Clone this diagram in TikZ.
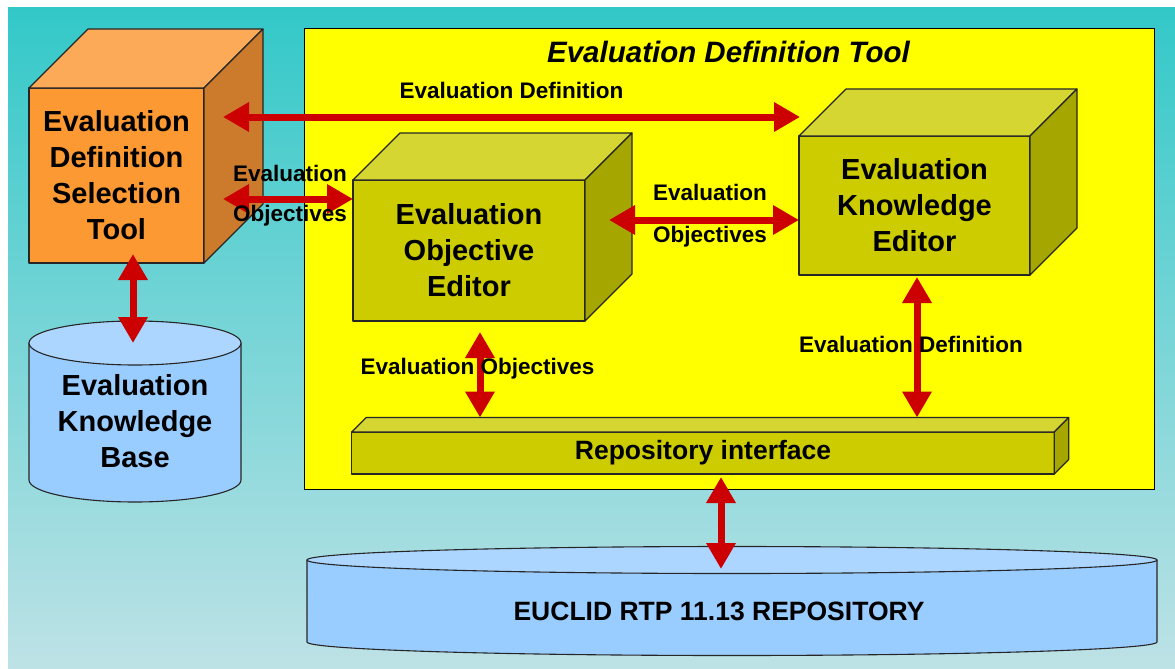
\documentclass[tikz,border=0pt]{standalone}
\usepackage{fontspec}
\setmainfont{Liberation Sans}
\usetikzlibrary{arrows.meta,calc}
\definecolor{bgtop}{RGB}{51,200,200}
\definecolor{bgbot}{RGB}{190,226,230}
\definecolor{ofront}{RGB}{252,153,51}
\definecolor{otop}{RGB}{252,170,88}
\definecolor{oside}{RGB}{204,122,44}
\definecolor{yfront}{RGB}{204,204,0}
\definecolor{ytop}{RGB}{214,214,50}
\definecolor{yside}{RGB}{166,166,0}
\definecolor{cbody}{RGB}{153,204,255}
\definecolor{ctop}{RGB}{172,214,255}
\definecolor{arr}{RGB}{204,0,0}
\definecolor{boxy}{RGB}{255,255,0}
\newcommand\drawcube[4]{%
  \filldraw[face, fill=#3] (#1.north west) -- ++(#2,-#2) -- ($(#1.north east)+(#2,-#2)$) -- (#1.north east) -- cycle;
  \filldraw[face, fill=#4] (#1.north east) -- ++(#2,-#2) -- ($(#1.south east)+(#2,-#2)$) -- (#1.south east) -- cycle;
}
\newcommand\drawcyl[5]{%
  \filldraw[face, fill=cbody] (#1-#4,#2) -- (#1-#4,#3) arc[start angle=180,end angle=360,x radius=#4pt,y radius=#5pt] -- (#1+#4,#2) -- cycle;
  \filldraw[face, fill=ctop] (#1,#2) ellipse[x radius=#4pt, y radius=#5pt];
}
\begin{document}
\begin{tikzpicture}[x=1pt,y=-1pt,
  face/.style={draw=black!85, line width=1.1pt, line join=round},
  bigtxt/.style={align=center, font=\fontsize{29}{36}\selectfont\bfseries, inner sep=0pt},
  front/.style={face, rectangle, outer sep=0pt, inner sep=0pt, align=center, font=\fontsize{29}{36}\selectfont\bfseries},
  dbl/.style={draw=arr, line width=7pt, {Triangle[length=26pt,width=28pt]}-{Triangle[length=26pt,width=28pt]}},
  lbl/.style={font=\fontsize{22.5}{26}\selectfont\bfseries, inner sep=0pt, anchor=base},
]
\useasboundingbox (0,0) rectangle (1175,669);
\fill[white] (0,0) rectangle (1175,669);
\shade[top color=bgtop,bottom color=bgbot] (8,8) rectangle (1175,669);

% outer tool box
\node[draw=black, line width=1pt, fill=boxy, minimum width=850pt, minimum height=460pt, inner sep=0pt, outer sep=0pt] (edt) at (729,259) {};
\node[font=\fontsize{29.5}{34}\selectfont\bfseries\itshape, anchor=base, inner sep=0pt] (title) at (728.5,63) {Evaluation Definition Tool};

% cubes
\node[front, fill=ofront, minimum width=175pt, minimum height=175pt] (edst) at (116.5,175.5) {Evaluation\\Definition\\Selection\\Tool};
\drawcube{edst}{59}{otop}{oside}
\node[front, fill=yfront, minimum width=232pt, minimum height=141pt] (oe) at (469,250.5) {Evaluation\\Objective\\Editor};
\drawcube{oe}{47}{ytop}{yside}
\node[front, fill=yfront, minimum width=231pt, minimum height=139pt] (ke) at (914.5,205.5) {Evaluation\\Knowledge\\Editor};
\drawcube{ke}{47}{ytop}{yside}
\node[front, fill=yfront, minimum width=702.5pt, minimum height=42pt, font=\fontsize{26.5}{30}\selectfont\bfseries] (ri) at (703,453) {Repository interface};
\drawcube{ri}{14.5}{ytop}{yside}

% cylinders
\drawcyl{135}{343}{480}{106}{22}
\coordinate (kbtop) at (135,343);
\node[bigtxt] (kb) at (135,421) {Evaluation\\Knowledge\\Base};
\drawcyl{732}{560}{642}{425}{13.5}
\coordinate (repotop) at (732,560);
\node[font=\fontsize{26.5}{30}\selectfont\bfseries, anchor=base, inner sep=0pt] (repo) at (719,620) {EUCLID RTP 11.13 REPOSITORY};

% connectors
\coordinate (a1) at ($(edst.south)+(16.5,-9)$);
\draw[dbl] (a1) -- (a1 |- kbtop);
\coordinate (a2) at ($(edst.east)+(19,-58.5)$);
\coordinate (a2e) at ($(ke.north west)+(1,-19)$);
\draw[dbl] (a2) -- (a2e);
\coordinate (a3) at ($(edst.east)+(19,23.5)$);
\draw[dbl] (a3) -- (a3 -| oe.west);
\coordinate (a4) at ($(oe.east)+(24,-30.5)$);
\draw[dbl] (a4) -- (a4 -| ke.west);
\coordinate (ritop) at ($(ri.north)+(0,-14.5)$);
\coordinate (a5) at ($(oe.south)+(11,11)$);
\draw[dbl] (a5) -- (a5 |- ritop);
\coordinate (a6) at ($(ke.south)+(2.5,2)$);
\draw[dbl] (a6) -- (a6 |- ritop);
\coordinate (a7) at ($(ri.south)+(18,3)$);
\coordinate (repotip) at ($(repotop)+(0,9)$);
\draw[dbl] (a7) -- (a7 |- repotip);

% labels
\node[lbl] (l1) at (511.5,98) {Evaluation Definition};
\node[lbl] (l2a) at (290,181) {Evaluation};
\node[lbl] (l2b) at (290,221) {Objectives};
\node[lbl] (l3a) at (710,200) {Evaluation};
\node[lbl] (l3b) at (710,242) {Objectives};
\node[lbl] (l4) at (477.5,374) {Evaluation Objectives};
\node[lbl] (l5) at (911,352) {Evaluation Definition};
\end{tikzpicture}
\end{document}
